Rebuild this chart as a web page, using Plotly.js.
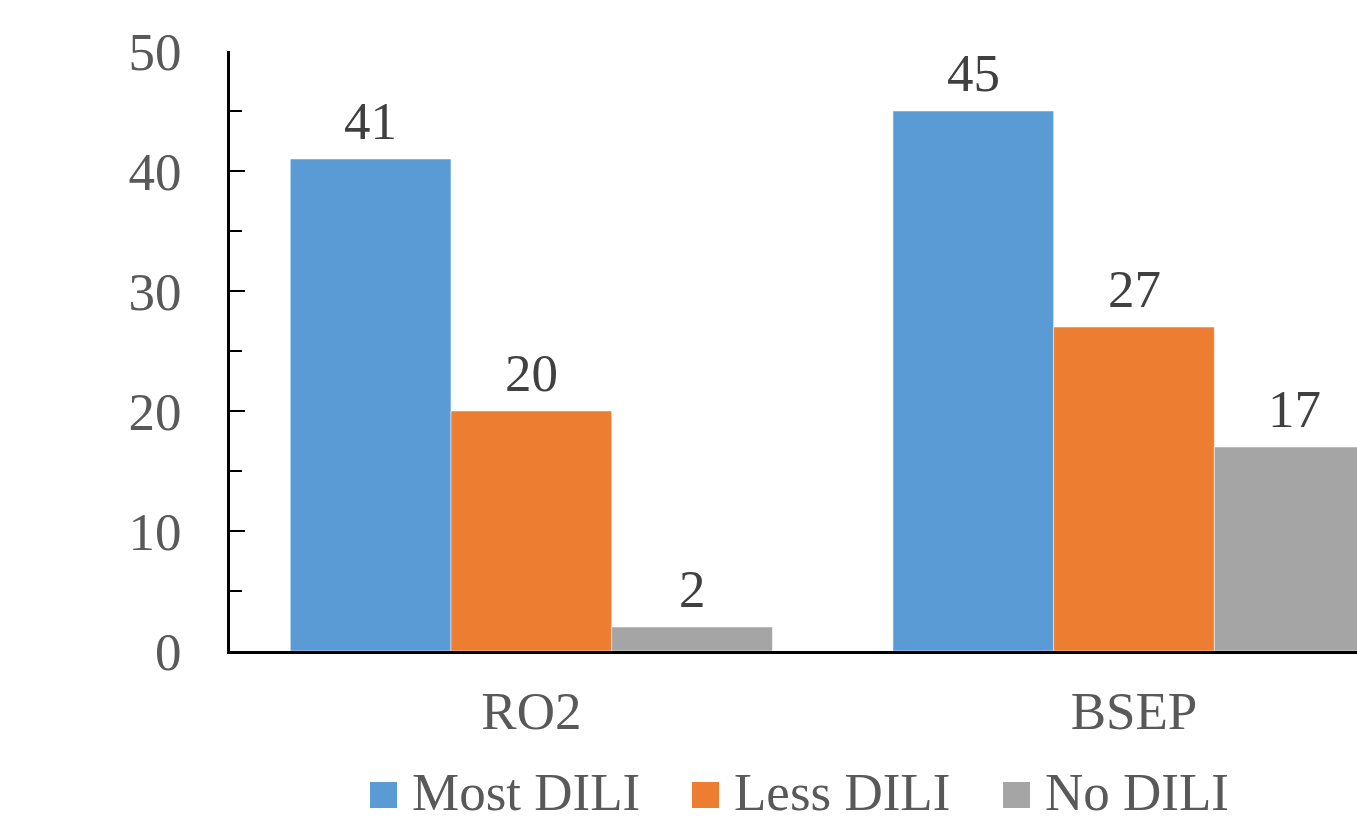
<!DOCTYPE html>
<html>
<head>
<meta charset="utf-8">
<script src="https://cdn.plot.ly/plotly-3.0.1.min.js"></script>
<style>html,body{margin:0;padding:0;background:#fff;}#chart{width:1357px;height:823px;}</style>
</head>
<body>
<div id="chart"></div>
<script>
const categories = ["RO2", "BSEP"];
const seriesNames = ["Most DILI", "Less DILI", "No DILI"];
const mostDILI = [41, 45];
const lessDILI = [20, 27];
const noDILI = [2, 17];
const seriesValues = [mostDILI, lessDILI, noDILI];
const colors = ["#5B9BD5", "#ED7D31", "#A5A5A5"];
const yTickVals = [0, 10, 20, 30, 40, 50];

const FONT = "'Liberation Serif', 'Times New Roman', serif";
const FS = 53;
const W = 1357, H = 823, ML = 230, MR = 0, MT = 51, MB = 172;
const plotW = W - ML - MR, plotH = H - MT - MB;
const px = x => (x - ML) / plotW;
const py = y => (H - MB - y) / plotH;
const BARGAP = 0.2;

const traces = seriesNames.map((name, i) => ({
  type: "bar",
  name: name,
  x: categories,
  y: seriesValues[i],
  marker: {color: colors[i], line: {color: "rgba(255,255,255,0.5)", width: 1}},
  showlegend: false,
  hoverinfo: "x+y+name"
}));

const shapes = [], annotations = [];
// data labels above each bar
const nS = seriesNames.length, slot = (1 - BARGAP) / nS;
seriesValues.forEach((vals, i) => {
  vals.forEach((v, j) => {
    annotations.push({xref: "x", yref: "y", x: j + (i - (nS - 1) / 2) * slot, y: v,
      xanchor: "center", yanchor: "bottom", yshift: 7, showarrow: false, text: String(v),
      font: {family: FONT, size: FS, color: "#404040"}});
  });
});

// custom legend (large square swatches as in the reference)
const legendSwatchX = [370, 692, 1003];
const legendTextX = [410, 732, 1043];
seriesNames.forEach((name, i) => {
  shapes.push({type: "rect", xref: "paper", yref: "paper",
    x0: px(legendSwatchX[i]), x1: px(legendSwatchX[i] + 27),
    y0: py(808), y1: py(782), fillcolor: colors[i], line: {width: 0}});
  annotations.push({xref: "paper", yref: "paper", x: px(legendTextX[i]), y: py(792),
    xanchor: "left", yanchor: "middle", showarrow: false, text: name,
    font: {family: FONT, size: FS, color: "#595959"}});
});

const layout = {
  width: W, height: H,
  margin: {l: ML, r: MR, t: MT, b: MB, pad: 0},
  paper_bgcolor: "#fff", plot_bgcolor: "#fff",
  barmode: "group", bargap: BARGAP, bargroupgap: 0,
  showlegend: false,
  font: {family: FONT, size: FS, color: "#595959"},
  xaxis: {
    type: "category", range: [-0.5, 1.37],
    showline: true, linecolor: "#000", linewidth: 3,
    ticks: "", showgrid: false, zeroline: false,
    tickfont: {family: FONT, size: FS, color: "#595959"},
    ticklabelstandoff: 11
  },
  yaxis: {
    range: [0, 50], tickvals: yTickVals, ticktext: yTickVals.map(String),
    showline: true, linecolor: "#000", linewidth: 3,
    ticks: "inside", ticklen: 15, tickwidth: 2.5, tickcolor: "#000",
    minor: {dtick: 5, tick0: 0, ticks: "inside", ticklen: 12, tickwidth: 2, tickcolor: "#000"},
    showgrid: false, zeroline: false,
    tickfont: {family: FONT, size: FS, color: "#595959"},
    ticklabelstandoff: 35
  },
  shapes: shapes,
  annotations: annotations
};

Plotly.newPlot("chart", traces, layout, {displayModeBar: false, staticPlot: true});
</script>
</body>
</html>
